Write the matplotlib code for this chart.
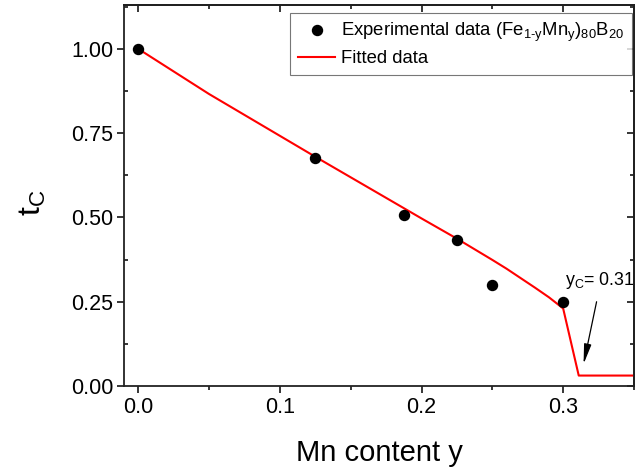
import matplotlib
matplotlib.use('Agg')
import matplotlib.pyplot as plt
from matplotlib.ticker import MultipleLocator, FormatStrFormatter

plt.rcParams['font.family'] = ['Liberation Sans', 'DejaVu Sans']
plt.rcParams['mathtext.fontset'] = 'custom'
plt.rcParams['mathtext.rm'] = 'Liberation Sans'
plt.rcParams['mathtext.it'] = 'Liberation Sans'

# measured reduced Curie temperature vs Mn content
y_exp = [0.0, 0.125, 0.1875, 0.225, 0.25, 0.30]
tc_exp = [1.0, 0.676, 0.506, 0.434, 0.300, 0.248]

# fitted curve
y_fit = [0.0, 0.05, 0.10, 0.125, 0.15, 0.175, 0.20, 0.225, 0.25, 0.26,
         0.27, 0.28, 0.29, 0.30, 0.311, 0.35]
tc_fit = [1.0, 0.866, 0.742, 0.680, 0.619, 0.558, 0.497, 0.437, 0.374, 0.348,
          0.320, 0.292, 0.263, 0.230, 0.031, 0.031]

y_crit = 0.31

fig = plt.figure(figsize=(6.38, 4.70), dpi=100)
ax = fig.add_axes([0.1944, 0.1787, 0.7993, 0.8107])

ax.plot(y_exp, tc_exp, 'o', color='black', markersize=7.2, label=r'Experimental data $\mathregular{(Fe_{1\text{-}y}Mn_y)_{80}B_{20}}$', zorder=3)
ax.plot(y_fit, tc_fit, '-', color='red', lw=1.5, label='Fitted data', zorder=2)

ax.annotate('', xy=(0.314, 0.057), xytext=(0.324, 0.258),
            arrowprops=dict(arrowstyle='-|>,head_length=1.2,head_width=0.22', color='black', lw=0.9))
ax.text(0.301, 0.314, r'$\mathregular{y_C}$= %.2f' % y_crit, fontsize=12.8, ha='left', va='center')

ax.set_xlim(-0.01, 0.35)
ax.set_ylim(0.0, 1.13)
ax.xaxis.set_major_locator(MultipleLocator(0.1))
ax.xaxis.set_minor_locator(MultipleLocator(0.05))
ax.yaxis.set_major_locator(MultipleLocator(0.25))
ax.yaxis.set_minor_locator(MultipleLocator(0.125))
ax.xaxis.set_major_formatter(FormatStrFormatter('%.1f'))
ax.yaxis.set_major_formatter(FormatStrFormatter('%.2f'))

ax.tick_params(axis='both', which='major', direction='out', length=4.8, width=1.1, labelsize=15.5, pad=3)
ax.tick_params(axis='x', which='minor', direction='out', length=3, width=1.1)
ax.tick_params(axis='y', which='minor', direction='in', length=3, width=1.1)
for s in ax.spines.values():
    s.set_linewidth(1.3)
    s.set_color('#222222')

# mirrored axes on top and right, ticks pointing inward
top = ax.secondary_xaxis('top')
top.xaxis.set_major_locator(MultipleLocator(0.1))
top.xaxis.set_minor_locator(MultipleLocator(0.05))
top.tick_params(which='major', direction='in', length=4.8, width=1.1, labeltop=False)
top.tick_params(which='minor', direction='in', length=3, width=1.1)
top.spines['top'].set_linewidth(1.3)
right = ax.secondary_yaxis('right')
right.yaxis.set_major_locator(MultipleLocator(0.25))
right.yaxis.set_minor_locator(MultipleLocator(0.125))
right.tick_params(which='major', direction='in', length=4.8, width=1.1, labelright=False)
right.tick_params(which='minor', direction='in', length=3, width=1.1)
right.spines['right'].set_linewidth(1.3)

ax.set_xlabel('Mn content y', fontsize=21)
ax.set_ylabel(r'$\mathregular{t_C}$', fontsize=23)
ax.xaxis.set_label_coords(0.5, -0.14)
ax.yaxis.set_label_coords(-0.15, 0.48)

leg = ax.legend(loc='upper right', bbox_to_anchor=(0.997, 0.979), borderaxespad=0,
                fontsize=13.3, frameon=True, fancybox=False, edgecolor='#555555',
                handlelength=2.0, handletextpad=0.3, borderpad=0.45, labelspacing=0.3,
                numpoints=1)
leg.get_frame().set_linewidth(0.8)

fig.savefig('out.png', dpi=100)
